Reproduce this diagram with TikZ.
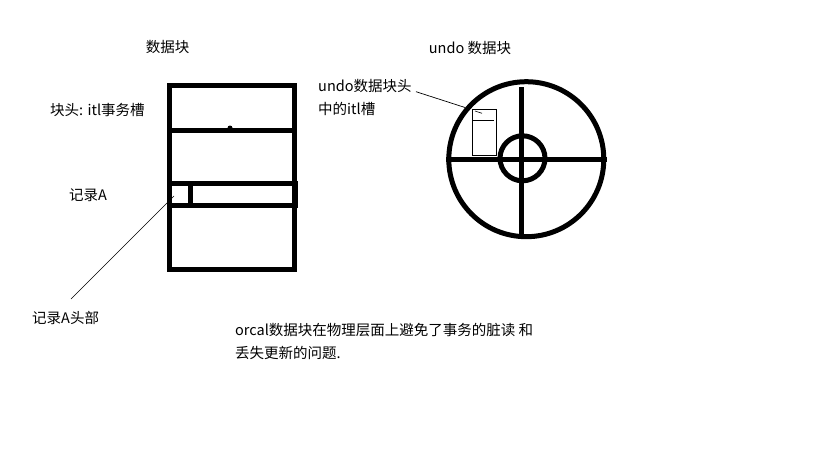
\documentclass[tikz,border=0pt]{standalone}
\usepackage{fontspec}
\setmainfont{Noto Sans CJK SC}
\begin{document}
\begin{tikzpicture}[x=1pt,y=-1pt,
  lbl/.style={inner sep=0pt,font=\fontsize{14.5}{17}\selectfont},
  thick5/.style={line width=5pt},
  thin1/.style={line width=0.9pt}]
\useasboundingbox[fill=white] (0,0) rectangle (819,460);
% data block
\draw[thick5] (169,85.5) rectangle (294.5,269.5);
\draw[thick5] (169,130.5) -- (294.5,130.5);
\fill (230,128) circle (2.5);
\draw[thick5] (169,183) rectangle (295.5,205);
\draw[thick5] (190.5,185) -- (190.5,203);
% labels left
\node[lbl] (t1) at (167.5,47) {数据块};
\node[lbl,anchor=west] (t2) at (50,110) {块头: itl事务槽};
\node[lbl,anchor=west] (t3) at (69,195) {记录A};
\node[lbl,anchor=west] (t4) at (32,318) {记录A头部};
\coordinate (hdr) at (174,196);
\coordinate (t4tip) at (71,299);
\draw[line width=0.6pt] (t4tip) -- (hdr);
% undo block
\node[lbl] (u1) at (470,48) {undo 数据块};
\node[lbl,anchor=west] (u2) at (318,86.5) {undo数据块头};
\node[lbl,anchor=west] (u3) at (318,109) {中的itl槽};
\draw[thick5] (526.3,159.2) circle (77.5);
\draw[thick5] (522.5,158.3) circle (22.5);
\draw[thick5] (446,159.2) -- (606.5,159.2);
\draw[thick5] (521.3,87) -- (521.3,238);
\draw[thin1] (472.5,109.5) rectangle (496,155.3);
\draw[thin1] (472.5,120) -- (494.3,120);
\draw[line width=0.6pt] (475,111) -- (482,113.3);
\coordinate (slot) at (465,107.5);
\coordinate (u2tip) at (416,91.7);
\draw[line width=0.7pt] (u2tip) -- (slot);
% bottom text
\node[lbl,anchor=west] (b1) at (235,330) {orcal数据块在物理层面上避免了事务的脏读 和};
\node[lbl,anchor=west] (b2) at (235,352.5) {丢失更新的问题.};
\end{tikzpicture}
\end{document}
